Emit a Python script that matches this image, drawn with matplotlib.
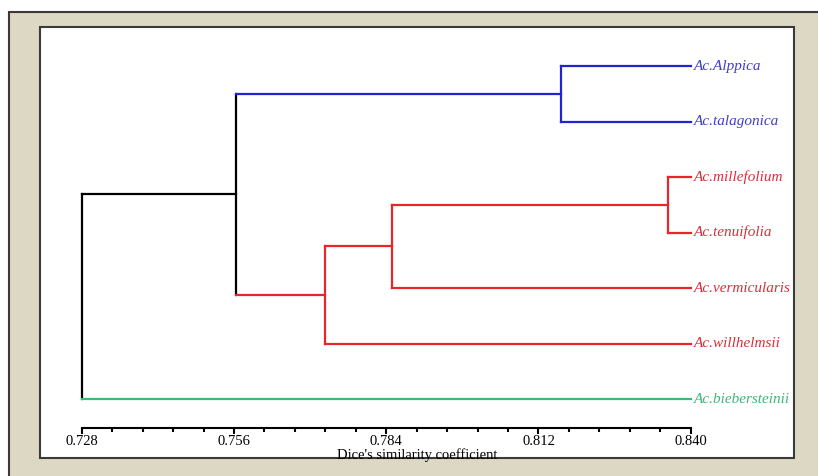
import numpy as np
import matplotlib
matplotlib.use('Agg')
import matplotlib.pyplot as plt
from matplotlib.patches import Rectangle

plt.rcParams['font.family'] = ['Liberation Serif', 'DejaVu Serif']

# leaves, top to bottom
leaves = ['Ac.Alppica', 'Ac.talagonica', 'Ac.millefolium', 'Ac.tenuifolia',
          'Ac.vermicularis', 'Ac.willhelmsii', 'Ac.biebersteinii']
leaf_colors = ['#2323d2', '#2323d2', '#e8262a', '#e8262a',
               '#e8262a', '#e8262a', '#3cb878']
label_colors = ['#3f3fc4', '#3f3fc4', '#d8303a', '#d8303a',
                '#d8303a', '#d8303a', '#3cb878']

# merges: child a, child b, similarity  (new cluster ids start at 7)
merge_a = [0, 2, 8, 9, 7, 11]
merge_b = [1, 3, 4, 5, 10, 6]
merge_sim = [0.8162, 0.8358, 0.7850, 0.7727, 0.7563, 0.728]
merge_colors = ['#2323d2', '#e8262a', '#e8262a', '#e8262a', 'black', 'black']

xticks_major = [0.728, 0.756, 0.784, 0.812, 0.840]
leaf_end = 0.840

fig = plt.figure(figsize=(8.18, 4.76), dpi=100)
fig.patch.set_facecolor('white')
bg = Rectangle((9/818, -0.1), 1.0, 0.1 + (476-12)/476.,
               transform=fig.transFigure, facecolor='#dcd8c4',
               edgecolor='#3a3a3a', lw=1.5)
bg.set_zorder(-10)
fig.add_artist(bg)

ax = fig.add_axes([40/818., 18/476., 754/818., 431/476.])
ax.set_facecolor('white')

# node positions
xpos = [leaf_end] * len(leaves)
ypos = list(range(len(leaves)))
cols = list(leaf_colors)
for a, b, s, c in zip(merge_a, merge_b, merge_sim, merge_colors):
    ya, yb = ypos[a], ypos[b]
    ax.plot([s, s], [ya, yb], color=c, lw=1.6, solid_capstyle='projecting')
    ax.plot([s, xpos[a]], [ya, ya], color=cols[a], lw=1.6, solid_capstyle='projecting')
    ax.plot([s, xpos[b]], [yb, yb], color=cols[b], lw=1.6, solid_capstyle='projecting')
    xpos.append(s)
    ypos.append((ya + yb) / 2.)
    cols.append(c)

for i, name in enumerate(leaves):
    ax.text(leaf_end + 0.0005, i, name, color=label_colors[i], style='italic',
            fontsize=11, va='center', ha='left')

ax.set_xlim(0.72033, 0.8590)
ax.set_ylim(7.063, -0.703)

for s in ['top', 'left', 'right']:
    ax.spines[s].set_visible(False)
ax.spines['bottom'].set_position(('data', 6.52))
ax.spines['bottom'].set_bounds(0.728, 0.840)
ax.spines['bottom'].set_linewidth(1.5)
ax.set_xticks(xticks_major)
ax.set_xticklabels(['%.3f' % v for v in xticks_major], fontsize=10.5)
ax.set_xticks(np.arange(0.728, 0.8401, 0.0056), minor=True)
ax.tick_params(axis='x', which='major', direction='out', length=4, width=1.5, pad=1)
ax.tick_params(axis='x', which='minor', direction='out', length=3, width=1.5)
ax.set_yticks([])
ax.set_xlabel("Dice's similarity coefficient", fontsize=10.5, labelpad=0)

ax.add_patch(Rectangle((0, 0), 1, 1, transform=ax.transAxes, fill=False,
                       edgecolor='#3a3a3a', lw=1.5, clip_on=False))

plt.savefig('out.png', dpi=100)
